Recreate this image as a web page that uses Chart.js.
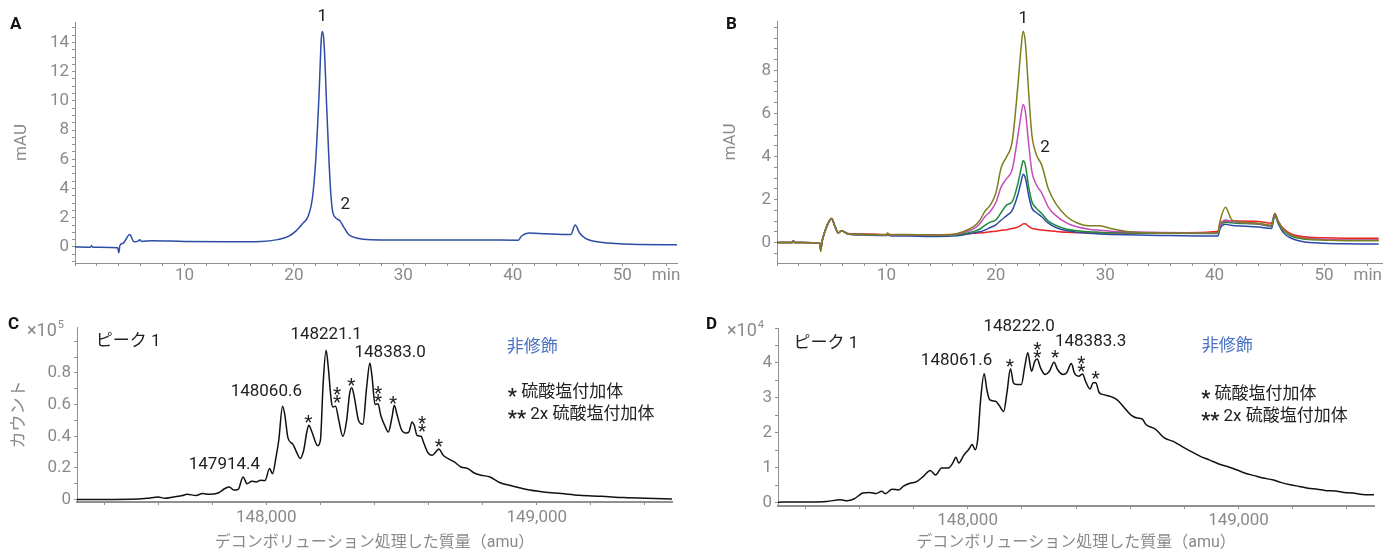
<!DOCTYPE html>
<html>
<head>
<meta charset="utf-8">
<script src="https://cdn.jsdelivr.net/npm/chart.js@4.4.1/dist/chart.umd.min.js"></script>
<style>
  html, body { margin: 0; padding: 0; background: #fff; }
  body { width: 1397px; height: 553px; position: relative; overflow: hidden; }
  canvas { position: absolute; }
</style>
</head>
<body>
<canvas id="chartA" width="700" height="290" style="left:0;top:0"></canvas>
<canvas id="chartB" width="697" height="290" style="left:700px;top:0"></canvas>
<canvas id="chartC" width="700" height="263" style="left:0;top:290px"></canvas>
<canvas id="chartD" width="697" height="263" style="left:700px;top:290px"></canvas>
<script>
// ---- data: panel A (UV chromatogram, single trace) ----
const aTime   = [0, 1.4, 1.5, 1.6, 3.9, 4.0, 4.1, 4.4, 5.0, 5.4, 5.8, 5.9, 6.1, 7, 10, 14, 17, 18.5, 19.5, 20.2,
                 20.8, 21.3, 21.7, 22.0, 22.3, 22.5, 22.6, 22.75, 23.0, 23.3, 23.5, 23.8, 24.2, 24.6, 25.0, 25.8, 27, 32, 37, 40.5,
                 40.8, 41.5, 43, 45.3, 45.7, 46.1, 46.6, 47.2, 48.7, 51.5, 55];
const aSignal = [0, -0.02, 0.08, -0.02, -0.05, -0.4, 0.1, 0.25, 0.85, 0.35, 0.42, 0.5, 0.38, 0.42, 0.38, 0.36, 0.38, 0.5, 0.72, 1.1,
                 1.6, 2.1, 3.4, 6.0, 10.5, 14.2, 14.75, 14.0, 9.5, 4.5, 2.6, 2.0, 1.8, 1.3, 0.85, 0.6, 0.5, 0.48, 0.48, 0.46,
                 0.75, 0.95, 0.9, 0.85, 1.5, 0.95, 0.6, 0.42, 0.27, 0.16, 0.15];
const aTimeLabels = [10, 20, 30, 40, 50];
const aMauLabels  = [0, 2, 4, 6, 8, 10, 12, 14];

// ---- data: panel B (five overlaid chromatograms) ----
const bTime    = [0, 1.4, 1.5, 1.6, 3.9, 4.0, 4.1, 4.3, 5.0, 5.3, 5.6, 5.9, 6.5, 8, 10, 10.1, 10.3, 12, 14, 16,
                  17, 18, 18.5, 19, 19.5, 20, 20.5, 21, 21.5, 22, 22.3, 22.5, 22.7, 23.0, 23.3, 23.7, 24.2, 24.8, 25.5, 26.5,
                  27.5, 28.5, 29.5, 30.5, 32, 35, 40.3, 40.5, 41.0, 41.5, 42, 44, 45.2, 45.5, 45.8, 46.3, 47, 48, 50, 52,
                  55];
const bOlive   = [0, 0, 0.08, 0, -0.02, -0.42, 0, 0.4, 1.13, 0.75, 0.45, 0.55, 0.4, 0.38, 0.36, 0.45, 0.36, 0.38, 0.35, 0.38,
                  0.5, 0.75, 1.0, 1.45, 1.75, 2.3, 3.5, 4.0, 4.7, 7.2, 9.0, 9.82, 9.3, 7.0, 5.0, 4.1, 3.6, 2.5, 1.8, 1.2,
                  0.9, 0.78, 0.78, 0.65, 0.52, 0.45, 0.46, 1.0, 1.64, 1.1, 0.98, 0.9, 0.8, 1.35, 1.0, 0.6, 0.35, 0.2, 0.12, 0.1,
                  0.1];
const bMagenta = [0, 0, 0.08, 0, -0.02, -0.35, 0, 0.4, 1.1, 0.75, 0.45, 0.55, 0.4, 0.38, 0.36, 0.4, 0.35, 0.36, 0.34, 0.36,
                  0.45, 0.65, 0.85, 1.2, 1.45, 1.85, 2.6, 2.98, 3.4, 4.9, 5.9, 6.42, 6.1, 4.6, 3.3, 2.7, 2.3, 1.65, 1.25, 0.9,
                  0.72, 0.62, 0.57, 0.53, 0.5, 0.47, 0.45, 0.8, 1.05, 0.98, 0.95, 0.88, 0.78, 1.35, 1.0, 0.6, 0.35, 0.22, 0.15, 0.12,
                  0.12];
const bGreen   = [0, 0, 0.08, 0, -0.02, -0.35, 0, 0.4, 1.1, 0.75, 0.45, 0.55, 0.4, 0.37, 0.35, 0.38, 0.34, 0.34, 0.33, 0.34,
                  0.4, 0.52, 0.62, 0.8, 0.95, 1.05, 1.4, 1.75, 1.9, 2.7, 3.4, 3.8, 3.6, 2.6, 1.9, 1.6, 1.35, 1.0, 0.8, 0.62,
                  0.55, 0.5, 0.48, 0.46, 0.45, 0.43, 0.42, 0.75, 0.95, 0.92, 0.9, 0.85, 0.75, 1.3, 0.95, 0.55, 0.3, 0.18, 0.12, 0.1,
                  0.1];
const bBlue    = [0, 0, 0.08, 0, -0.02, -0.35, 0, 0.4, 1.1, 0.75, 0.45, 0.55, 0.4, 0.35, 0.33, 0.35, 0.32, 0.3, 0.28, 0.3,
                  0.35, 0.45, 0.5, 0.58, 0.7, 0.82, 1.05, 1.25, 1.5, 2.2, 2.8, 3.18, 3.0, 2.2, 1.6, 1.4, 1.2, 0.9, 0.7, 0.55,
                  0.48, 0.43, 0.4, 0.38, 0.36, 0.33, 0.3, 0.65, 0.85, 0.8, 0.78, 0.72, 0.65, 1.25, 0.9, 0.45, 0.2, 0.05, -0.03, -0.06,
                  -0.07];
const bRed     = [0, 0, 0.08, 0, -0.02, -0.35, 0, 0.4, 1.1, 0.75, 0.45, 0.55, 0.42, 0.4, 0.37, 0.37, 0.37, 0.36, 0.36, 0.37,
                  0.4, 0.43, 0.45, 0.47, 0.5, 0.53, 0.57, 0.6, 0.65, 0.72, 0.8, 0.87, 0.88, 0.75, 0.66, 0.62, 0.58, 0.55, 0.52, 0.48,
                  0.46, 0.45, 0.44, 0.44, 0.44, 0.45, 0.52, 0.9, 1.0, 1.0, 1.0, 0.98, 0.9, 1.35, 1.0, 0.65, 0.4, 0.28, 0.22, 0.2,
                  0.2];
const bMauLabels = [0, 2, 4, 6, 8];

// ---- data: panel C (deconvoluted mass spectrum, x10^5 counts) ----
const cMass  = [147300, 147500, 147560, 147600, 147625, 147657, 147690, 147707, 147740, 147764,
                147789, 147822, 147847, 147863, 147880, 147896, 147914, 147929, 147946, 147962,
                147979, 147995, 148012, 148023, 148036, 148046, 148060, 148068, 148080, 148098,
                148112, 148125, 148138, 148150, 148157, 148168, 148190, 148200, 148210, 148221,
                148229, 148240, 148246, 148256, 148268, 148283, 148297, 148308, 148316, 148325,
                148341, 148357, 148371, 148383, 148391, 148402, 148413, 148423, 148440, 148451,
                148465, 148473, 148484, 148498, 148506, 148517, 148527, 148539, 148547, 148557,
                148572, 148583, 148596, 148613, 148626, 148638, 148654, 148671, 148695, 148720,
                148745, 148769, 148794, 148827, 148860, 148909, 148959, 149025, 149091, 149157,
                149239, 149321, 149404, 149500];
const cCount = [0, 0.002, 0.008, 0.017, 0.008, 0.017, 0.026, 0.034, 0.026, 0.038,
                0.034, 0.042, 0.07, 0.08, 0.06, 0.065, 0.143, 0.1, 0.116, 0.112,
                0.122, 0.12, 0.196, 0.164, 0.27, 0.375, 0.59, 0.54, 0.39, 0.35,
                0.3, 0.26, 0.31, 0.43, 0.47, 0.43, 0.34, 0.375, 0.73, 0.943,
                0.838, 0.627, 0.585, 0.59, 0.5, 0.4, 0.5, 0.67, 0.707, 0.65,
                0.5, 0.476, 0.71, 0.863, 0.775, 0.6, 0.606, 0.533, 0.459, 0.427,
                0.522, 0.596, 0.533, 0.448, 0.427, 0.42, 0.427, 0.49, 0.47, 0.406,
                0.4, 0.354, 0.3, 0.28, 0.3, 0.32, 0.28, 0.26, 0.238, 0.206,
                0.196, 0.168, 0.154, 0.143, 0.11, 0.086, 0.065, 0.048, 0.038, 0.027,
                0.021, 0.013, 0.008, 0.004];
const cCountLabels = [0, 0.2, 0.4, 0.6, 0.8];

// ---- data: panel D (deconvoluted mass spectrum, x10^4 counts) ----
const dMass  = [147290, 147400, 147480, 147530, 147555, 147580, 147613, 147638, 147663, 147683,
                147696, 147721, 147746, 147762, 147787, 147812, 147837, 147862, 147882, 147904,
                147929, 147945, 147957, 147967, 147987, 148003, 148017, 148028, 148037, 148048,
                148061, 148071, 148081, 148103, 148115, 148133, 148145, 148158, 148169, 148181,
                148198, 148211, 148222, 148236, 148248, 148257, 148269, 148286, 148302, 148319,
                148332, 148352, 148365, 148383, 148394, 148410, 148424, 148437, 148452, 148463,
                148473, 148485, 148502, 148527, 148551, 148576, 148601, 148626, 148643, 148659,
                148693, 148726, 148759, 148792, 148826, 148859, 148892, 148925, 148958, 148992,
                149025, 149058, 149091, 149125, 149158, 149191, 149224, 149257, 149291, 149324,
                149357, 149390, 149423, 149457, 149500];
const dCount = [0.01, 0.015, 0.03, 0.08, 0.05, 0.1, 0.27, 0.29, 0.26, 0.32,
                0.25, 0.38, 0.36, 0.46, 0.55, 0.6, 0.75, 0.92, 0.79, 0.99,
                0.99, 1.13, 1.3, 1.13, 1.37, 1.51, 1.66, 1.51, 1.8, 2.95,
                3.69, 3.23, 2.95, 2.9, 2.8, 2.61, 3.14, 3.83, 3.43, 3.38,
                3.38, 3.9, 4.29, 3.76, 4.05, 4.11, 3.86, 3.67, 3.76, 4.02,
                3.81, 3.67, 3.71, 3.98, 3.71, 3.62, 3.68, 3.44, 3.25, 3.43,
                3.43, 3.16, 3.09, 3.04, 2.95, 2.74, 2.52, 2.42, 2.4, 2.23,
                2.1, 1.85, 1.75, 1.6, 1.46, 1.32, 1.22, 1.11, 1.03, 0.94,
                0.84, 0.77, 0.7, 0.65, 0.57, 0.51, 0.46, 0.41, 0.38, 0.34,
                0.33, 0.29, 0.27, 0.23, 0.22];
const dCountLabels = [0, 1, 2, 3, 4];

const massLabels = [148000, 149000];

const FONT = 'Roboto, "Noto Sans CJK JP", sans-serif';
const GREY = '#8a8a8a';
const AXIS = '#909090';
Chart.defaults.font.family = FONT;

// tick positions (labels only on a few of them)
function steps(from, to, step){
  const out = [];
  for (let v = from; v <= to + step / 2; v += step) out.push(Math.round(v * 1000) / 1000);
  return out;
}
function pairs(xs, ys){ return xs.map((x, i) => ({ x, y: ys[i] })); }

function axis(o){
  return {
    type: 'linear',
    min: o.min, max: o.max,
    afterBuildTicks: s => { s.ticks = o.ticks.map(v => ({ value: v })); },
    afterFit: s => { if (o.width) s.width = o.width; if (o.height) s.height = o.height; },
    grid: { drawOnChartArea: false, drawTicks: true, tickLength: 3, tickColor: AXIS, color: AXIS },
    border: { display: true, color: AXIS, width: o.border || 1 },
    ticks: { autoSkip: false, maxRotation: 0, padding: o.pad, color: GREY, font: { size: 17 }, callback: o.label },
    title: o.title
      ? { display: true, text: o.title, color: GREY, font: { size: o.titleSize || 17 }, padding: o.titlePad }
      : { display: false }
  };
}

// text on top of the plot: peak numbers, masses, asterisks, notes
const annotate = {
  id: 'annotate',
  afterDraw(chart, args, opts){
    const ctx = chart.ctx, xs = chart.scales.x, ys = chart.scales.y;
    ctx.save();
    ctx.textBaseline = 'middle';
    if (opts.letter) {
      ctx.font = `bold 17px ${FONT}`; ctx.fillStyle = '#111'; ctx.textAlign = 'left';
      ctx.fillText(opts.letter[0], opts.letter[1], opts.letter[2]);
    }
    if (opts.power) {
      const [p, px, py] = opts.power;
      ctx.fillStyle = GREY; ctx.textAlign = 'left';
      ctx.font = `18px ${FONT}`;
      ctx.fillText('×10', px, py);
      const w = ctx.measureText('×10').width;
      ctx.font = `11px ${FONT}`;
      ctx.fillText(p, px + w + 1, py - 6);
    }
    (opts.labels || []).forEach(l => {
      const runs = l.runs || [[l.text, false]];
      const fontOf = b => b ? `bold 20px ${FONT}` : `17px ${FONT}`;
      let total = 0;
      runs.forEach(r => { ctx.font = fontOf(r[1]); total += ctx.measureText(r[0]).width; });
      let px = xs.getPixelForValue(l.at[0]);
      if (l.align !== 'left') px -= total / 2;
      const py = ys.getPixelForValue(l.at[1]);
      ctx.textAlign = 'left';
      ctx.fillStyle = l.color || '#222';
      runs.forEach(r => {
        ctx.font = fontOf(r[1]);
        ctx.fillText(r[0], px, r[1] ? py + 5 : py);
        px += ctx.measureText(r[0]).width;
      });
    });
    ctx.font = `19px ${FONT}`; ctx.fillStyle = '#222'; ctx.textAlign = 'center';
    (opts.stars || []).forEach(s => {
      const px = xs.getPixelForValue(s.at[0]);
      const py = ys.getPixelForValue(s.at[1]) + 5;
      if (s.n === 2) { ctx.fillText('*', px, py - 4); ctx.fillText('*', px, py + 4); }
      else ctx.fillText('*', px, py);
    });
    ctx.restore();
  }
};

function makeChart(id, datasets, scales, padding, notes){
  new Chart(document.getElementById(id), {
    type: 'line',
    data: { datasets },
    options: {
      responsive: false, animation: false, devicePixelRatio: 1,
      layout: { padding },
      elements: { point: { radius: 0 }, line: { borderWidth: 1.5, cubicInterpolationMode: 'monotone' } },
      plugins: { legend: { display: false }, tooltip: { enabled: false }, annotate: notes },
      scales
    },
    plugins: [annotate]
  });
}

function trace(xs, ys, color, width){
  return { data: pairs(xs, ys), borderColor: color, backgroundColor: color, borderWidth: width || 1.5, fill: false };
}

const timeLabel = v => v === 54 ? 'min' : (aTimeLabels.includes(v) ? String(v) : '');
const massLabel = v => massLabels.includes(v) ? v.toLocaleString('en-US') : '';
const legendRuns1 = [['*', true], [' 硫酸塩付加体', false]];
const legendRuns2 = [['**', true], [' 2x 硫酸塩付加体', false]];

// A
makeChart('chartA',
  [trace(aTime, aSignal, '#2b4da4')],
  {
    x: axis({ min: 0, max: 55, ticks: steps(0, 54, 2), label: timeLabel, height: 27, pad: 0 }),
    y: axis({ min: -1.1, max: 15.4, ticks: steps(-1, 15, 0.5), width: 75, pad: 3,
              label: v => aMauLabels.includes(v) ? String(v) : '', title: 'mAU', titlePad: { top: 12, bottom: 0 } })
  },
  { left: 0, top: 22, right: 23, bottom: 0 },
  { letter: ['A', 10, 25], labels: [{ at: [22.6, 15.75], text: '1' }, { at: [24.7, 2.86], text: '2' }] });

// B
makeChart('chartB',
  [trace(bTime, bOlive, '#7e7e1f'), trace(bTime, bMagenta, '#c44dba'), trace(bTime, bGreen, '#1c893b'),
   trace(bTime, bBlue, '#2d4aa6'), trace(bTime, bRed, '#ec2424')],
  {
    x: axis({ min: 0, max: 55.3, ticks: steps(0, 54, 2), label: timeLabel, height: 27, pad: 0 }),
    y: axis({ min: -0.95, max: 10.3, ticks: steps(-0.5, 10, 0.5), width: 77, pad: 3,
              label: v => bMauLabels.includes(v) ? String(v) : '', title: 'mAU', titlePad: { top: 21, bottom: 0 } })
  },
  { left: 0, top: 21, right: 15, bottom: 0 },
  { letter: ['B', 26, 25], labels: [{ at: [22.5, 10.4], text: '1' }, { at: [24.5, 4.43], text: '2' }] });

// C
makeChart('chartC',
  [trace(cMass, cCount, '#111')],
  {
    x: axis({ min: 147300, max: 149500, ticks: steps(147400, 149400, 200), label: massLabel, height: 51, pad: 3, border: 2,
              title: 'デコンボリューション処理した質量（amu）', titleSize: 16, titlePad: { top: 0, bottom: 0 } }),
    y: axis({ min: -0.015, max: 1.09, ticks: steps(0, 1, 0.1), width: 77, pad: 3,
              label: v => cCountLabels.includes(v) ? String(v) : '', title: 'カウント', titlePad: { top: 10, bottom: 0 } })
  },
  { left: 0, top: 37, right: 28, bottom: 0 },
  {
    letter: ['C', 8, 35], power: ['5', 27, 41],
    labels: [
      { at: [148221, 1.04], text: '148221.1' }, { at: [148458, 0.93], text: '148383.0' },
      { at: [148000, 0.684], text: '148060.6' }, { at: [147845, 0.223], text: '147914.4' },
      { at: [147369, 0.995], text: 'ピーク 1', align: 'left' },
      { at: [148983, 0.956], text: '非修飾', color: '#4a72c4' },
      { at: [148893, 0.672], runs: legendRuns1, align: 'left' },
      { at: [148893, 0.533], runs: legendRuns2, align: 'left' }
    ],
    stars: [
      { at: [148155, 0.514], n: 1 }, { at: [148262, 0.668], n: 2 }, { at: [148314, 0.747], n: 1 },
      { at: [148413, 0.672], n: 2 }, { at: [148469, 0.634], n: 1 }, { at: [148576, 0.482], n: 2 },
      { at: [148638, 0.362], n: 1 }
    ]
  });

// D
makeChart('chartD',
  [trace(dMass, dCount, '#111')],
  {
    x: axis({ min: 147300, max: 149500, ticks: steps(147400, 149400, 200), label: massLabel, height: 47, pad: 2, border: 2,
              title: 'デコンボリューション処理した質量（amu）', titleSize: 16, titlePad: { top: 0, bottom: 0 } }),
    y: axis({ min: -0.1, max: 5.0, ticks: steps(0, 5, 0.5), width: 78, pad: 3,
              label: v => dCountLabels.includes(v) ? String(v) : '' })
  },
  { left: 0, top: 38, right: 23, bottom: 0 },
  {
    letter: ['D', 6, 35], power: ['4', 27, 41],
    labels: [
      { at: [148190, 5.05], text: '148222.0' }, { at: [148454, 4.61], text: '148383.3' },
      { at: [147959, 4.07], text: '148061.6' },
      { at: [147357, 4.56], text: 'ピーク 1', align: 'left' },
      { at: [148958, 4.47], text: '非修飾', color: '#4a72c4' },
      { at: [148862, 3.09], runs: legendRuns1, align: 'left' },
      { at: [148862, 2.46], runs: legendRuns2, align: 'left' }
    ],
    stars: [
      { at: [148156, 4.01], n: 1 }, { at: [148257, 4.38], n: 2 }, { at: [148323, 4.27], n: 1 },
      { at: [148420, 3.99], n: 2 }, { at: [148472, 3.67], n: 1 }
    ]
  });
</script>
</body>
</html>
